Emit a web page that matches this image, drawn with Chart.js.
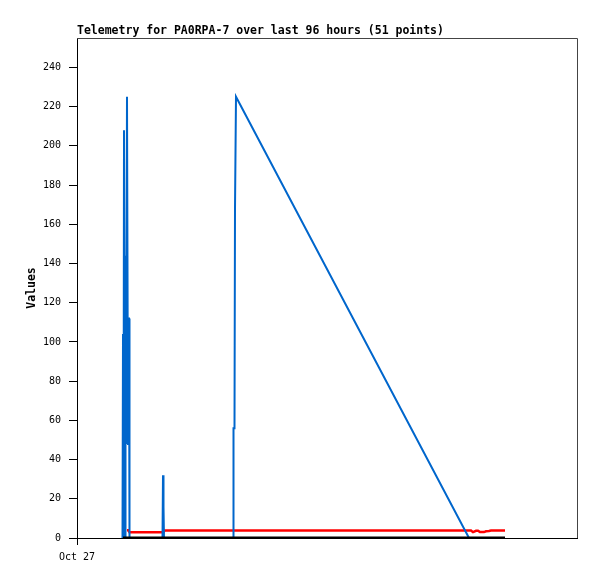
<!DOCTYPE html>
<html>
<head>
<meta charset="utf-8">
<script src="https://cdn.jsdelivr.net/npm/chart.js@4/dist/chart.umd.min.js"></script>
<style>
  html, body { margin: 0; padding: 0; background: #fff; }
  #wrap { width: 597px; height: 579px; }
</style>
</head>
<body>
<div id="wrap"><canvas id="telemetry"></canvas></div>
<script>
// hours since Oct 27 00:00 (axis spans 0..125)
var blueHours = [11.375, 11.5, 11.625, 11.75, 12, 12.125, 12.25, 12.5, 12.75, 12.875, 13, 13.125,
    21.375, 21.5, 21.625, 21.75,
    39, 39.125, 39.375, 39.5, 39.625, 39.75, 98, 107];
var blueValues = [0, 104, 0, 208, 0, 144, 48, 225, 48, 112, 112, 0,
    0, 32, 16, 0,
    0, 56, 56, 168, 168, 225, 0, 0];

var redHours = [12.5, 12.875, 13.125, 21.625, 21.875, 98.5, 99, 99.75, 100.25, 100.75, 101.75, 102.25, 103, 103.5, 107];
var redValues = [3.9, 3.9, 2.9, 2.9, 3.8, 3.8, 3.0, 3.7, 3.7, 3.0, 3.0, 3.4, 3.6, 3.8, 3.8];

var blackHours = [11.5, 107];
var blackValues = [0, 0];

var xTickValues = [0];
var xTickLabels = ['Oct 27'];

var yTickValues = [0, 20, 40, 60, 80, 100, 120, 140, 160, 180, 200, 220, 240];

var toPoints = function (xs, ys) {
    return xs.map(function (x, i) { return { x: x, y: ys[i] }; });
};

var monoFont = 'DejaVu Sans Mono';

// top and right edges of the plot box
var frameBox = {
    id: 'frameBox',
    afterDraw: function (chart) {
        var a = chart.chartArea;
        var ctx = chart.ctx;
        ctx.save();
        ctx.strokeStyle = '#444';
        ctx.lineWidth = 1;
        ctx.beginPath();
        ctx.moveTo(a.left, a.top + 0.5);
        ctx.lineTo(a.right + 0.5, a.top + 0.5);
        ctx.lineTo(a.right + 0.5, a.bottom);
        ctx.stroke();
        ctx.restore();
    }
};

new Chart(document.getElementById('telemetry'), {
    type: 'line',
    data: {
        datasets: [
            {
                label: 'zero',
                data: toPoints(blackHours, blackValues),
                borderColor: '#000',
                borderWidth: 3,
                order: 0
            },
            {
                label: 'values',
                data: toPoints(blueHours, blueValues),
                borderColor: '#0066cc',
                borderWidth: 2,
                order: 1
            },
            {
                label: 'low',
                data: toPoints(redHours, redValues),
                borderColor: '#ff0000',
                borderWidth: 2.5,
                order: 2
            }
        ]
    },
    options: {
        responsive: true,
        maintainAspectRatio: false,
        animation: false,
        events: [],
        elements: {
            point: { radius: 0 },
            line: { tension: 0, fill: false, borderJoinStyle: 'miter' }
        },
        layout: { padding: { top: 0, right: 20, bottom: 0, left: 0 } },
        plugins: {
            legend: { display: false },
            tooltip: { enabled: false },
            title: {
                display: true,
                text: 'Telemetry for PA0RPA-7 over last 96 hours (51 points)',
                align: 'start',
                fullSize: false,
                color: '#000',
                font: { family: monoFont, size: 11.5, weight: 'bold' },
                padding: { top: 24.2, bottom: 0 }
            }
        },
        scales: {
            x: {
                type: 'linear',
                min: 0,
                max: 125,
                afterBuildTicks: function (scale) {
                    scale.ticks = xTickValues.map(function (v) { return { value: v }; });
                },
                afterFit: function (scale) { scale.height = 41; },
                ticks: {
                    autoSkip: false,
                    maxRotation: 0,
                    color: '#000',
                    padding: 6,
                    font: { family: monoFont, size: 10 },
                    callback: function (v) {
                        var i = xTickValues.indexOf(v);
                        return i >= 0 ? xTickLabels[i] : '';
                    }
                },
                grid: { drawOnChartArea: false, color: '#000', tickLength: 7 },
                border: { color: '#000' }
            },
            y: {
                min: 0,
                max: 255,
                afterBuildTicks: function (scale) {
                    scale.ticks = yTickValues.map(function (v) { return { value: v }; });
                },
                afterFit: function (scale) { scale.width = 77; },
                ticks: {
                    autoSkip: false,
                    color: '#000',
                    padding: 8,
                    font: { family: monoFont, size: 10 }
                },
                grid: { drawOnChartArea: false, color: '#000', tickLength: 8 },
                border: { color: '#000' },
                title: {
                    display: true,
                    text: 'Values',
                    color: '#000',
                    font: { family: monoFont, size: 11.5, weight: 'bold' },
                    padding: { top: 25, bottom: 0 }
                }
            }
        }
    },
    plugins: [frameBox]
});
</script>
</body>
</html>
